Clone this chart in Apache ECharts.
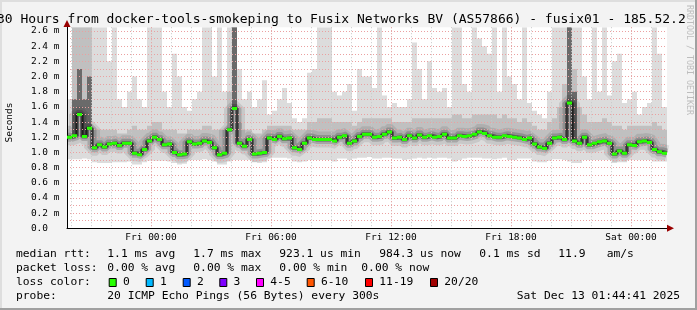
<!DOCTYPE html>
<html><head><meta charset="utf-8">
<script src="https://cdn.jsdelivr.net/npm/echarts@6/dist/echarts.min.js"></script>
<style>html,body{margin:0;padding:0;background:#f3f3f3}#c{width:697px;height:310px}</style>
</head><body><div id="c"></div>
<script>
// ---------------- data ----------------
const titleText = '30 Hours from docker-tools-smokeping to Fusix Networks BV (AS57866) - fusix01 - 185.52.2';
const startHour = -4.2;   // first sample, hours relative to Fri 00:00 (Thu 19:48)
const endHour = 25.8;     // Sat 01:48
const stepHours = 0.25;   // one 15-minute slot per value

const medianRtt = [
 1.20,1.22,1.50,1.21,1.32,1.06,1.10,1.07,1.11,1.12,1.09,1.12,1.12,0.99,0.97,1.04,1.15,1.20,1.17,1.10,1.11,1.00,0.97,0.98,1.14,1.11,1.12,1.15,1.13,1.06,
 0.97,0.99,1.30,1.58,1.12,1.08,1.17,0.98,0.99,1.00,1.19,1.17,1.21,1.18,1.19,1.06,1.04,1.12,1.19,1.17,1.17,1.17,1.17,1.15,1.20,1.22,1.12,1.15,1.21,1.24,
 1.24,1.20,1.21,1.24,1.27,1.19,1.20,1.17,1.22,1.19,1.23,1.20,1.22,1.20,1.21,1.24,1.19,1.19,1.22,1.21,1.22,1.24,1.27,1.25,1.22,1.20,1.20,1.22,1.21,1.20,
 1.19,1.17,1.19,1.11,1.07,1.05,1.12,1.19,1.20,1.17,1.65,1.15,1.12,1.20,1.10,1.12,1.14,1.15,1.12,0.98,1.02,0.99,1.10,1.09,1.14,1.15,1.13,1.04,1.01,0.99
];
const minRtt = [
 0.91,0.91,0.91,0.92,0.91,0.87,0.86,0.86,0.86,0.87,0.87,0.87,0.88,0.84,0.84,0.87,0.89,0.89,0.89,0.89,0.88,0.86,0.84,0.85,0.90,0.90,0.90,0.91,0.90,0.88,
 0.84,0.84,0.88,0.90,0.90,0.90,0.90,0.87,0.86,0.87,0.92,0.93,0.93,0.93,0.92,0.88,0.87,0.88,0.90,0.90,0.90,0.90,0.90,0.88,0.92,0.92,0.90,0.92,0.93,0.93,
 0.94,0.92,0.92,0.93,0.93,0.92,0.92,0.90,0.91,0.92,0.93,0.92,0.93,0.92,0.93,0.93,0.92,0.88,0.90,0.92,0.93,0.93,0.93,0.92,0.92,0.91,0.92,0.93,0.90,0.90,
 0.92,0.92,0.92,0.88,0.87,0.87,0.89,0.91,0.91,0.90,0.88,0.86,0.86,0.90,0.90,0.90,0.90,0.90,0.90,0.86,0.87,0.87,0.90,0.90,0.90,0.90,0.90,0.88,0.88,0.88
];
const midRtt = [
 1.35,2.65,2.65,2.65,2.65,1.30,1.30,1.30,1.30,1.30,1.25,1.25,1.30,1.35,1.30,1.30,1.35,1.40,1.40,1.30,1.30,1.30,1.25,1.25,1.30,1.30,1.30,1.35,1.35,1.30,
 1.30,1.30,1.80,2.65,1.40,1.30,1.30,1.25,1.25,1.30,1.35,1.35,1.35,1.35,1.35,1.30,1.30,1.30,1.40,1.40,1.45,1.45,1.45,1.40,1.40,1.40,1.40,1.35,1.40,1.45,
 1.45,1.45,1.45,1.45,1.45,1.40,1.40,1.40,1.40,1.45,1.45,1.45,1.45,1.45,1.45,1.45,1.45,1.50,1.50,1.45,1.45,1.50,1.50,1.50,1.50,1.50,1.45,1.50,1.45,1.45,
 1.40,1.45,1.40,1.35,1.30,1.30,1.40,1.45,1.60,1.90,2.65,2.10,1.60,1.50,1.40,1.40,1.40,1.45,1.40,1.35,1.35,1.30,1.35,1.35,1.35,1.35,1.35,1.40,1.35,1.30
];
const maxRtt = [
 1.70,2.65,2.65,2.65,2.65,2.65,2.65,2.65,2.20,2.65,1.70,1.60,1.80,2.00,1.70,1.60,2.65,2.65,2.65,1.80,1.60,2.30,2.00,1.60,1.55,1.70,1.80,2.65,2.65,2.00,
 2.65,1.80,2.65,2.65,2.10,1.70,1.80,1.60,1.70,1.95,1.50,1.55,1.70,1.85,1.65,1.45,1.40,1.45,2.05,2.10,2.65,2.65,2.65,1.80,1.75,1.80,1.90,1.55,2.10,2.00,
 2.00,1.85,2.65,1.75,1.60,1.65,1.60,1.60,1.70,2.45,2.10,1.70,2.20,1.85,1.80,1.85,1.60,2.65,2.65,1.90,1.80,2.65,2.50,2.40,2.30,2.65,1.80,2.65,2.00,1.90,
 1.70,2.65,1.65,1.55,1.50,1.45,1.80,2.65,2.65,2.65,2.65,2.65,2.65,2.00,1.70,2.65,1.80,2.65,1.75,2.20,2.30,1.65,1.70,1.80,1.50,1.60,1.65,2.65,2.30,1.60
];
// slots where the dense (dark) part of the smoke reaches high: [slot, top]
const darkCols = [[1,1.7],[2,2.1],[3,1.7],[4,2.0],[33,2.65],[100,2.65],[101,1.8]];

const timeTickHours = [0, 6, 12, 18, 24];
const timeTickLabels = ['Fri 00:00', 'Fri 06:00', 'Fri 12:00', 'Fri 18:00', 'Sat 00:00'];

const statsRow1 = ['median rtt:', '1.1 ms avg', '1.7 ms max', '923.1 us min', '984.3 us now', '0.1 ms sd', '11.9', 'am/s'];
const statsRow2 = ['packet loss:', '0.00 % avg', '0.00 % max', '0.00 % min', '0.00 % now'];
const lossLabels = ['0', '1', '2', '3', '4-5', '6-10', '11-19', '20/20'];
const lossColors = ['#26ff00', '#00b8ff', '#0059ff', '#7e00ff', '#ff00ff', '#ff5500', '#ff0000', '#a00000'];
const probeText = '20 ICMP Echo Pings (56 Bytes) every 300s';
const dateText = 'Sat Dec 13 01:44:41 2025';

// ---------------- layout / style ----------------
const MONO = 'DejaVu Sans Mono';
const G = {left: 67, top: 27.2, width: 600, height: 201.1};
const pxPerHour = G.width / (endHour - startHour);
const row1X = [16, 107.3, 193.3, 279.3, 379.3, 479.3, 558.3, 606.7];
const row2X = [16, 107.3, 193.3, 279.3, 361.3];
const boxX = [108.7, 145.7, 182.7, 219.3, 256.0, 306.7, 365.0, 430.0];
const rowY = [253.8, 267.8, 281.8, 295.8];
const LEG = 11.3;

const smokeData = medianRtt.map((m, i) => [startHour + i * stepHours, minRtt[i], midRtt[i], maxRtt[i], m]);
const darkData = darkCols.map(d => [startHour + d[0] * stepHours, medianRtt[d[0]], d[1]]);
const stepLine = [];
medianRtt.forEach((v, i) => { const x0 = startHour + i * stepHours; stepLine.push([x0, v], [x0 + stepHours, v]); });
const greenData = medianRtt.map((v, i) => [startHour + i * stepHours, v]);

function smokeItem(params, api) {
  const x = api.value(0), lo = api.value(1), mid = api.value(2), mx = api.value(3), med = api.value(4);
  const a = api.coord([x, lo]), b = api.coord([x + stepHours, mx]);
  const c = api.coord([x, med]), d = api.coord([x + stepHours, mid]);
  return {type: 'group', children: [
    {type: 'rect', shape: {x: a[0], y: b[1], width: b[0] - a[0], height: a[1] - b[1]}, style: {fill: '#dcdcdc'}},
    {type: 'rect', shape: {x: c[0], y: d[1], width: d[0] - c[0], height: c[1] - d[1]}, style: {fill: '#c0c0c0'}}
  ]};
}
function darkItem(params, api) {
  const x = api.value(0);
  const a = api.coord([x, api.value(1)]), b = api.coord([x + stepHours, api.value(2)]);
  return {type: 'rect', shape: {x: a[0], y: b[1], width: b[0] - a[0], height: a[1] - b[1]}, style: {fill: '#6a6a6a'}};
}
function greenItem(params, api) {
  const x = api.value(0);
  const a = api.coord([x, api.value(1)]), b = api.coord([x + stepHours, api.value(1)]);
  return {type: 'rect', shape: {x: a[0], y: a[1] - 1.5, width: b[0] - a[0], height: 3}, style: {fill: lossColors[0]}};
}

const graphics = [];
function txt(x, y, s, opt) {
  graphics.push(Object.assign({type: 'text', x: x, y: y, silent: true,
    style: Object.assign({text: s, font: LEG + 'px "' + MONO + '"', fill: '#000', verticalAlign: 'middle', align: 'left'}, opt || {})}));
}
// frame
graphics.push({type: 'rect', shape: {x: 0, y: 0, width: 697, height: 2}, style: {fill: '#dedede'}, silent: true});
graphics.push({type: 'rect', shape: {x: 0, y: 0, width: 2, height: 310}, style: {fill: '#dedede'}, silent: true});
graphics.push({type: 'rect', shape: {x: 0, y: 308, width: 697, height: 2}, style: {fill: '#a0a0a0'}, silent: true});
graphics.push({type: 'rect', shape: {x: 695, y: 0, width: 2, height: 310}, style: {fill: '#a0a0a0'}, silent: true});
// title
txt(-3, 20, titleText, {font: '13px "' + MONO + '"'});
// y axis name
graphics.push({type: 'text', x: 10, y: 122.5, rotation: Math.PI / 2, silent: true,
  style: {text: 'Seconds', font: '9.5px "' + MONO + '"', fill: '#000', align: 'center', verticalAlign: 'middle'}});
// watermark
graphics.push({type: 'text', x: 689, y: 60, rotation: -Math.PI / 2, silent: true,
  style: {text: 'RRDTOOL / TOBI OETIKER', font: '8.3px "' + MONO + '"', fill: '#bdbdbd', align: 'center', verticalAlign: 'middle'}});
// axis arrows
graphics.push({type: 'polygon', z: 10, shape: {points: [[67, 20], [63.5, 27], [70.5, 27]]}, style: {fill: '#990000'}, silent: true});
graphics.push({type: 'polygon', z: 10, shape: {points: [[674, 228.3], [667, 224.8], [667, 231.8]]}, style: {fill: '#990000'}, silent: true});
// legend text
statsRow1.forEach((s, i) => txt(row1X[i], rowY[0], s));
statsRow2.forEach((s, i) => txt(row2X[i], rowY[1], s));
txt(16, rowY[2], 'loss color:');
lossLabels.forEach((s, i) => {
  graphics.push({type: 'rect', shape: {x: boxX[i] + 0.5, y: 278.5, width: 7, height: 8},
    style: {fill: lossColors[i], stroke: '#000', lineWidth: 1}, silent: true});
  txt(boxX[i] + 14.3, rowY[2], s);
});
txt(16, rowY[3], 'probe:');
txt(107.3, rowY[3], probeText);
txt(680, rowY[3], dateText, {align: 'right'});

const chart = echarts.init(document.getElementById('c'), null, {renderer: 'canvas'});
chart.setOption({
  backgroundColor: '#f3f3f3',
  animation: false,
  grid: [
    {left: G.left, top: G.top, width: G.width, height: G.height, show: true, backgroundColor: '#ffffff', borderWidth: 0, outerBoundsMode: 'none', containLabel: false},
    {left: G.left - (startHour + 5) * pxPerHour, top: G.top, width: 31 * pxPerHour, height: G.height, outerBoundsMode: 'none', containLabel: false},
    {left: G.left - (startHour + 6) * pxPerHour, top: G.top, width: 36 * pxPerHour, height: G.height, outerBoundsMode: 'none', containLabel: false}
  ],
  xAxis: [
    {type: 'value', gridIndex: 0, min: startHour, max: endHour, z: 3,
     axisLine: {show: true, onZero: false, lineStyle: {color: '#000', width: 1}}, axisTick: {show: false}, axisLabel: {show: false}, splitLine: {show: false}},
    {type: 'value', gridIndex: 1, min: -5, max: 26, interval: 1, z: 3,
     axisLine: {show: false}, axisTick: {show: false}, axisLabel: {show: false},
     splitLine: {show: true, showMinLine: false, showMaxLine: false, lineStyle: {color: '#c8c8c8', width: 1, type: [1, 2]}}},
    {type: 'value', gridIndex: 2, min: -6, max: 30, interval: 6, z: 3,
     axisLine: {show: false}, axisTick: {show: false},
     axisLabel: {show: true, margin: 4, color: '#000', fontFamily: MONO, fontSize: 9.5,
       formatter: v => { const k = timeTickHours.indexOf(Math.round(v)); return k >= 0 ? timeTickLabels[k] : ''; }},
     splitLine: {show: true, showMinLine: false, showMaxLine: false, lineStyle: {color: '#eba0a0', width: 1, type: [1, 2]}}}
  ],
  yAxis: [
    {type: 'value', gridIndex: 0, min: 0, max: 2.65, interval: 0.1, z: 3,
     axisLine: {show: true, onZero: false, lineStyle: {color: '#000', width: 1}}, axisTick: {show: false},
     axisLabel: {show: true, margin: 7.5, color: '#000', fontFamily: MONO, fontSize: 9.5,
       formatter: v => { const k = Math.round(v * 10); if (Math.abs(v * 10 - k) > 1e-6 || k % 2) return ''; return k === 0 ? '0.0  ' : (k / 10).toFixed(1) + ' m'; }},
     splitLine: {show: true, showMaxLine: false, lineStyle: {color: '#eba0a0', width: 1, type: [1, 2]}}},
    {type: 'value', gridIndex: 1, min: 0, max: 1, show: false},
    {type: 'value', gridIndex: 2, min: 0, max: 1, show: false}
  ],
  series: [
    {type: 'custom', name: 'smoke', xAxisIndex: 0, yAxisIndex: 0, z: 1, clip: true, silent: true,
     renderItem: smokeItem, data: smokeData},
    {type: 'custom', name: 'dense', xAxisIndex: 0, yAxisIndex: 0, z: 1, clip: true, silent: true,
     renderItem: darkItem, data: darkData},
    {type: 'line', xAxisIndex: 0, yAxisIndex: 0, z: 2, symbol: 'none', silent: true, data: stepLine,
     lineStyle: {width: 16, color: 'rgba(0,0,0,0.09)'}},
    {type: 'line', xAxisIndex: 0, yAxisIndex: 0, z: 2, symbol: 'none', silent: true, data: stepLine,
     lineStyle: {width: 9, color: 'rgba(0,0,0,0.17)'}},
    {type: 'line', xAxisIndex: 0, yAxisIndex: 0, z: 2, symbol: 'none', silent: true, data: stepLine,
     lineStyle: {width: 4, color: 'rgba(0,0,0,0.4)'}},
    {type: 'line', xAxisIndex: 0, yAxisIndex: 0, z: 2, symbol: 'none', silent: true, data: stepLine,
     lineStyle: {width: 1, color: '#111'}},
    {type: 'custom', name: 'median', xAxisIndex: 0, yAxisIndex: 0, z: 4, clip: true, silent: true,
     renderItem: greenItem, data: greenData}
  ],
  graphic: graphics
});
</script></body></html>
